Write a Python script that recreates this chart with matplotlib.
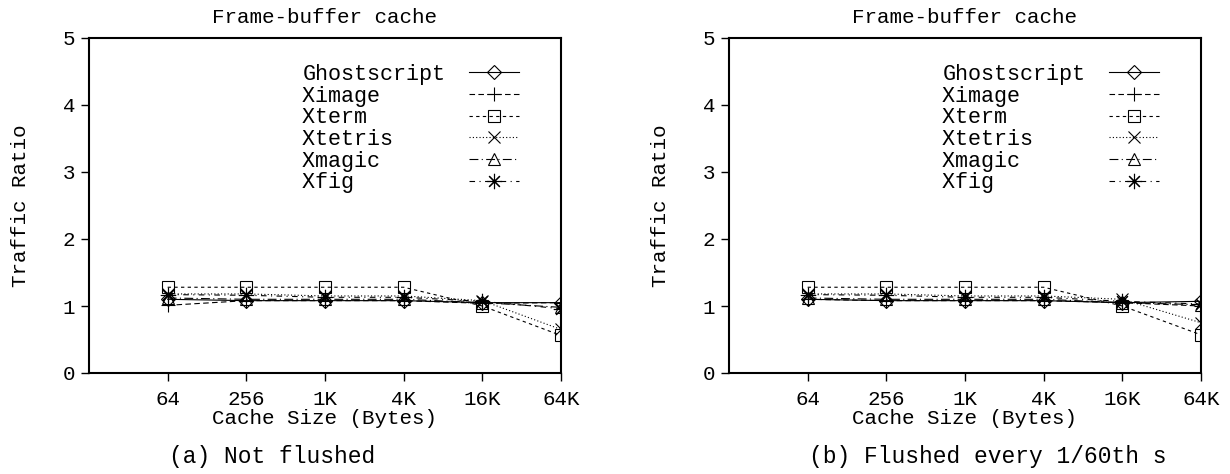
import numpy as np
import matplotlib
matplotlib.use('Agg')
import matplotlib.pyplot as plt

plt.rcParams['font.family'] = ['Liberation Mono', 'DejaVu Sans']

sizes = [64, 256, 1024, 4096, 16384, 65536]
size_labels = ['64', '256', '1K', '4K', '16K', '64K']
names = ['Ghostscript', 'Ximage', 'Xterm', 'Xtetris', 'Xmagic', 'Xfig']

# (a) not flushed
ghost_a = [1.10, 1.08, 1.08, 1.08, 1.05, 1.05]
ximage_a = [1.01, 1.08, 1.08, 1.08, 1.04, 1.05]
xterm_a = [1.28, 1.28, 1.28, 1.28, 1.00, 0.56]
xtetris_a = [1.18, 1.18, 1.15, 1.15, 1.08, 0.65]
xmagic_a = [1.12, 1.10, 1.10, 1.10, 1.05, 0.98]
xfig_a = [1.17, 1.16, 1.13, 1.13, 1.07, 0.96]

# (b) flushed every 1/60th s
ghost_b = [1.10, 1.08, 1.08, 1.08, 1.05, 1.07]
ximage_b = [1.10, 1.08, 1.08, 1.08, 1.05, 1.00]
xterm_b = [1.28, 1.28, 1.28, 1.28, 1.00, 0.57]
xtetris_b = [1.18, 1.18, 1.15, 1.15, 1.10, 0.75]
xmagic_b = [1.12, 1.10, 1.10, 1.10, 1.05, 1.02]
xfig_b = [1.17, 1.16, 1.13, 1.13, 1.07, 1.03]

styles = [
    dict(marker='D', ls='-', ms=7),
    dict(marker='+', ls=(0, (5, 3)), ms=10),
    dict(marker='s', ls=(0, (3, 3)), ms=8.5),
    dict(marker='x', ls=(0, (1, 2)), ms=9),
    dict(marker='^', ls=(0, (8, 3, 1, 3)), ms=8),
    dict(marker=(8, 2, 0), ls=(0, (5, 4, 1, 4)), ms=11),
]

FS = 15
fig = plt.figure(figsize=(12.3, 4.74), dpi=100)
panels = [
    (89, [ghost_a, ximage_a, xterm_a, xtetris_a, xmagic_a, xfig_a], '(a) Not flushed'),
    (729, [ghost_b, ximage_b, xterm_b, xtetris_b, xmagic_b, xfig_b], '(b) Flushed every 1/60th s'),
]
for left, series, caption in panels:
    ax = fig.add_axes([left / 1230, 101 / 474, 472 / 1230, 335 / 474])
    for name, vals, st in zip(names, series, styles):
        ax.plot(sizes, vals, color='black', lw=0.8, mfc='none', mec='black',
                mew=0.8, label=name.ljust(11), **st)
    ax.set_xscale('log', base=2)
    ax.set_xlim(16, 65536)
    ax.set_ylim(0, 5)
    ax.set_xticks(sizes)
    ax.set_xticklabels(size_labels)
    ax.minorticks_off()
    ax.set_yticks([0, 1, 2, 3, 4, 5])
    ax.tick_params(direction='out', length=6, width=1, labelsize=FS, pad=4)
    ax.tick_params(axis='x', pad=6)
    for s in ax.spines.values():
        s.set_linewidth(1.5)
    ax.set_title('Frame-buffer cache', fontsize=FS, pad=11)
    ax.set_xlabel('Cache Size (Bytes)', fontsize=FS)
    ax.xaxis.set_label_coords(0.5, -0.108)
    ax.set_ylabel('Traffic Ratio', fontsize=FS)
    ax.yaxis.set_label_coords(-0.125, 0.5)
    ax.legend(loc='upper right', bbox_to_anchor=(0.935, 0.955), frameon=False,
              markerfirst=False, fontsize=15.7, handlelength=2.3, borderpad=0,
              labelspacing=0.03, handletextpad=1.1)
    ax.text(0.17, -0.215, caption, transform=ax.transAxes, fontsize=16.5,
            ha='left', va='top')

fig.savefig('out.png', dpi=100)
